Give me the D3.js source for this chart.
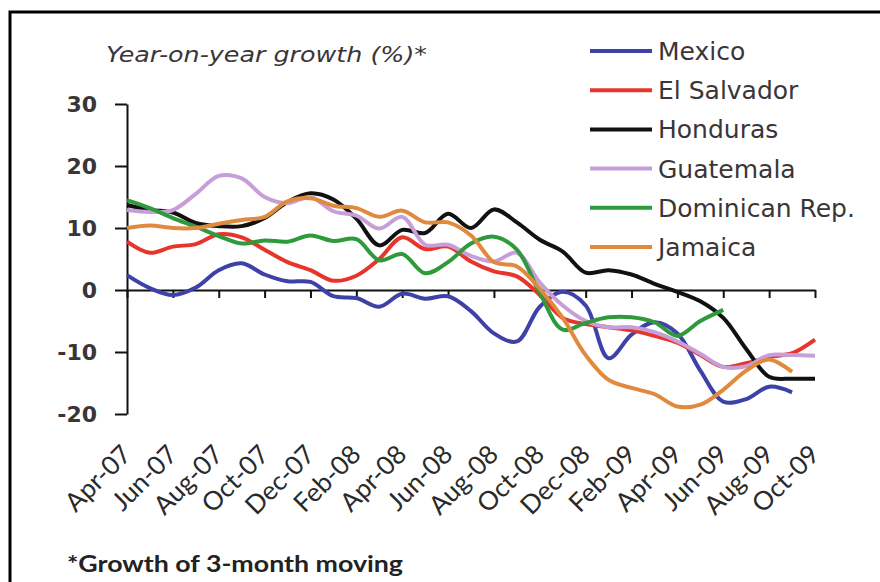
<!DOCTYPE html>
<html>
<head>
<meta charset="utf-8">
<script src="https://cdn.jsdelivr.net/npm/d3@7"></script>
<style>
  body { margin: 0; background: #fff; }
  svg { display: block; }
</style>
</head>
<body>
<svg id="chart" width="880" height="582"></svg>
<script>
// month labels, Apr-07 .. Oct-09
const months = ["Apr-07","May-07","Jun-07","Jul-07","Aug-07","Sep-07","Oct-07","Nov-07","Dec-07",
    "Jan-08","Feb-08","Mar-08","Apr-08","May-08","Jun-08","Jul-08","Aug-08","Sep-08","Oct-08","Nov-08","Dec-08",
    "Jan-09","Feb-09","Mar-09","Apr-09","May-09","Jun-09","Jul-09","Aug-09","Sep-09","Oct-09"];
const tickMonths = months.filter((m, i) => i % 2 === 0);
const yTicks = [-20, -10, 0, 10, 20, 30];

// year-on-year growth (%), null = no data
const mexico      = [2.4, 0.3, -0.8, 0.4, 3.2, 4.3, 2.5, 1.4, 1.3, -1.0, -1.3, -2.7, -0.6, -1.4, -1.0, -3.4, -7.0, -8.3, -2.7, -0.3, -2.5, -11.0, -7.2, -5.2, -7.0, -13.0, -18.0, -17.6, -15.6, -16.5, null];
const elSalvador  = [7.8, 6.0, 7.0, 7.4, 9.0, 8.5, 6.5, 4.5, 3.2, 1.5, 2.3, 5.0, 8.5, 6.6, 7.0, 4.6, 3.0, 2.2, -0.8, -4.5, -5.5, -6.0, -6.5, -7.4, -8.5, -10.5, -12.4, -11.8, -10.8, -10.2, -8.0];
const honduras    = [13.7, 12.9, 12.5, 10.8, 10.3, 10.3, 11.6, 14.2, 15.6, 14.6, 11.5, 7.2, 9.7, 9.2, 12.3, 10.0, 13.0, 10.9, 8.1, 6.2, 2.8, 3.2, 2.5, 1.0, -0.3, -1.8, -4.5, -9.5, -14.0, -14.3, -14.3];
const guatemala   = [12.9, 12.6, 12.9, 15.5, 18.4, 18.0, 15.0, 14.0, 15.0, 12.7, 12.0, 9.9, 11.8, 7.3, 7.3, 5.5, 4.6, 6.0, 1.2, -2.5, -5.0, -6.0, -6.0, -6.8, -8.3, -10.3, -12.4, -12.3, -10.5, -10.5, -10.6];
const dominican   = [14.5, 13.2, 11.6, 10.2, 8.7, 7.5, 8.0, 7.8, 8.8, 7.9, 8.2, 4.8, 5.8, 2.7, 4.5, 7.5, 8.6, 6.5, -0.5, -6.4, -5.3, -4.4, -4.4, -5.2, -7.4, -5.0, -3.2, null, null, null, null];
const jamaica     = [10.0, 10.4, 10.0, 10.0, 10.7, 11.3, 11.8, 14.3, 14.8, 13.6, 13.2, 11.8, 12.8, 10.9, 10.9, 8.8, 4.5, 3.8, 0.2, -4.5, -10.5, -14.5, -15.8, -16.8, -18.8, -18.5, -16.1, -13.0, -11.2, -13.2, null];

const seriesNames = ["Mexico", "El Salvador", "Honduras", "Guatemala", "Dominican Rep.", "Jamaica"];
const seriesData = [mexico, elSalvador, honduras, guatemala, dominican, jamaica];
const colors = ["#3d41a8", "#e8352b", "#111111", "#c79ed8", "#2e9a3c", "#e08a3e"];

const svg = d3.select("#chart");

// outer frame (runs off the right and bottom edges)
svg.append("rect")
    .attr("x", 10).attr("y", 12)
    .attr("width", 900).attr("height", 600)
    .attr("fill", "#fff")
    .attr("stroke", "#000")
    .attr("stroke-width", 3);

const x = d3.scalePoint().domain(months).range([127, 815]);
const y = d3.scaleLinear().domain([-20, 30]).range([414, 104]);

// y axis
const yAxis = svg.append("g")
    .attr("transform", "translate(127,0)")
    .call(d3.axisLeft(y).tickValues(yTicks).tickSize(12).tickSizeOuter(0).tickPadding(18)
        .tickFormat(d => String(d)));
yAxis.select(".domain").attr("stroke", "#111").attr("stroke-width", 2);
yAxis.selectAll(".tick line").attr("stroke", "#111").attr("stroke-width", 2);
yAxis.selectAll(".tick text")
    .attr("font-family", "DejaVu Sans")
    .attr("font-weight", "bold")
    .attr("font-size", 22)
    .attr("fill", "#3a3638");

// x axis at zero
const xAxis = svg.append("g")
    .attr("transform", `translate(0,${y(0)})`)
    .call(d3.axisBottom(x).tickValues(tickMonths).tickSize(8).tickSizeOuter(0).tickFormat(""));
xAxis.select(".domain").attr("stroke", "#111").attr("stroke-width", 2);
xAxis.selectAll(".tick line").attr("stroke", "#111").attr("stroke-width", 2);

// x labels along the bottom, rotated
svg.append("g").selectAll("text")
    .data(tickMonths)
    .join("text")
    .attr("transform", d => `translate(${x(d) + 6},${456}) rotate(-45)`)
    .attr("text-anchor", "end")
    .attr("font-family", "Lato")
    .attr("font-size", 26)
    .attr("fill", "#2a2a2a")
    .text(d => d);

// lines
const line = d3.line()
    .defined(d => d.v !== null)
    .x(d => x(d.m))
    .y(d => y(d.v))
    .curve(d3.curveCatmullRom.alpha(0.5));

svg.append("g").selectAll("path")
    .data(seriesData)
    .join("path")
    .attr("fill", "none")
    .attr("stroke", (d, i) => colors[i])
    .attr("stroke-width", 4)
    .attr("stroke-linejoin", "round")
    .attr("d", d => line(d.map((v, i) => ({m: months[i], v: v}))));

// title
svg.append("text")
    .attr("x", 106).attr("y", 62)
    .attr("font-family", "DejaVu Sans")
    .attr("font-style", "italic")
    .attr("font-size", 22)
    .attr("textLength", 321)
    .attr("lengthAdjust", "spacingAndGlyphs")
    .attr("fill", "#3a3638")
    .text("Year-on-year growth (%)*");

// legend
const legend = svg.append("g").selectAll("g")
    .data(seriesNames)
    .join("g")
    .attr("transform", (d, i) => `translate(590,${51 + i * 39.2})`);
legend.append("line")
    .attr("x1", 0).attr("x2", 62)
    .attr("stroke", (d, i) => colors[i])
    .attr("stroke-width", 4);
legend.append("text")
    .attr("x", 68).attr("y", 9)
    .attr("font-family", "DejaVu Sans")
    .attr("font-size", 25)
    .attr("fill", "#3a3638")
    .text(d => d);

// footnote
svg.append("text")
    .attr("x", 67).attr("y", 572)
    .attr("font-family", "Lato")
    .attr("font-weight", "bold")
    .attr("font-size", 23)
    .attr("textLength", 336)
    .attr("lengthAdjust", "spacingAndGlyphs")
    .attr("fill", "#222")
    .text("*Growth of 3-month moving");
</script>
</body>
</html>
